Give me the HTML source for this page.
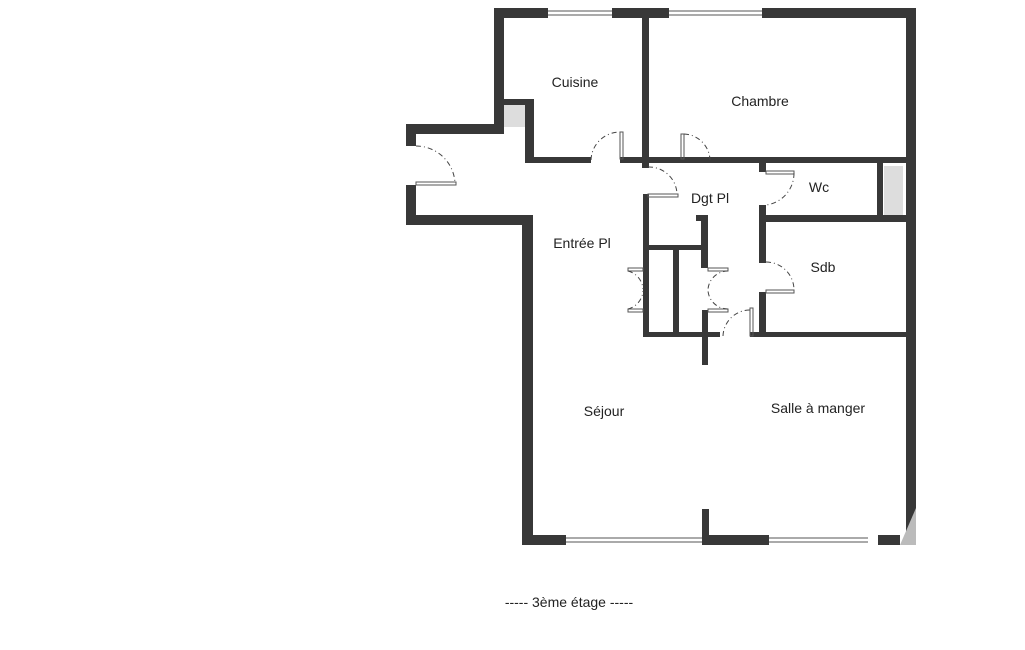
<!DOCTYPE html>
<html><head><meta charset="utf-8"><style>
html,body{margin:0;padding:0;background:#fff;width:1025px;height:650px;overflow:hidden}
svg{display:block}
text{font-family:"Liberation Sans","DejaVu Sans",sans-serif;font-size:14px;fill:#222;text-anchor:middle}
</style></head><body>
<svg width="1025" height="650" viewBox="0 0 1025 650">
<g fill="#ddd"><rect x="504" y="105" width="21" height="22"/><rect x="884" y="166" width="19" height="49"/></g>
<g fill="#383838">
<rect x="494" y="8" width="54" height="10"/>
<rect x="612" y="8" width="57" height="10"/>
<rect x="762" y="8" width="154" height="10"/>
<rect x="906" y="8" width="10" height="537"/>
<rect x="494" y="8" width="10" height="126"/>
<rect x="406" y="124" width="98" height="10"/>
<rect x="504" y="99" width="30" height="6"/>
<rect x="525" y="99" width="9" height="64"/>
<rect x="528" y="157" width="63" height="6"/>
<rect x="620" y="157" width="90" height="6"/>
<rect x="642" y="8" width="7" height="160"/>
<rect x="710" y="157" width="196" height="6"/>
<rect x="406" y="124" width="10" height="22"/>
<rect x="406" y="185" width="10" height="40"/>
<rect x="406" y="215" width="127" height="10"/>
<rect x="522" y="215" width="11" height="330"/>
<rect x="522" y="535" width="44" height="10"/>
<rect x="702" y="535" width="67" height="10"/>
<rect x="702" y="509" width="7" height="36"/>
<rect x="878" y="535" width="22" height="10"/>
<rect x="643" y="194" width="6" height="143"/>
<rect x="701" y="215" width="7" height="53"/>
<rect x="696" y="215" width="12" height="6"/>
<rect x="643" y="245" width="65" height="5"/>
<rect x="673" y="250" width="6" height="87"/>
<rect x="643" y="332" width="77" height="5"/>
<rect x="702" y="310" width="6" height="55"/>
<rect x="759" y="163" width="7" height="9"/>
<rect x="759" y="205" width="7" height="58"/>
<rect x="759" y="292" width="7" height="45"/>
<rect x="766" y="215" width="140" height="7"/>
<rect x="877" y="163" width="6" height="55"/>
<rect x="750" y="332" width="156" height="5"/>
</g>
<polygon points="900,545 916,545 916,508" fill="#bbb"/>
<g stroke="#555" stroke-width="1" fill="none">
<line x1="548" y1="11" x2="612" y2="11"/><line x1="548" y1="15" x2="612" y2="15"/>
<line x1="669" y1="11" x2="762" y2="11"/><line x1="669" y1="15" x2="762" y2="15"/>
<line x1="566" y1="538" x2="702" y2="538"/><line x1="566" y1="542" x2="702" y2="542"/>
<line x1="769" y1="538" x2="868" y2="538"/><line x1="769" y1="542" x2="868" y2="542"/>
<rect x="620" y="132" width="3" height="27"/><rect x="681" y="134" width="3" height="25"/>
<rect x="416" y="182" width="40" height="3"/>
<rect x="648" y="194" width="30" height="3"/>
<rect x="766" y="171" width="28" height="3"/><rect x="766" y="290" width="28" height="3"/>
<rect x="628" y="268" width="15" height="3"/><rect x="628" y="309" width="15" height="3"/>
<rect x="708" y="268" width="20" height="3"/><rect x="708" y="309" width="20" height="3"/>
<rect x="750" y="308" width="3" height="28"/>
</g>
<g stroke="#444" stroke-width="1" fill="none" stroke-dasharray="5,3,1,3">
<path d="M416,146 A39,39 0 0 1 455,183"/>
<path d="M591,160 A29,29 0 0 1 620,132"/>
<path d="M684,134 A27,27 0 0 1 710,160"/>
<path d="M648,167 A28,28 0 0 1 677,194"/>
<path d="M794,173 A32,32 0 0 1 766,205"/>
<path d="M766,262 A28,28 0 0 1 794,290"/>
<path d="M723,336 A27,27 0 0 1 750,310"/>
<path d="M628,271 A20,20 0 0 1 643,289"/>
<path d="M628,309 A20,20 0 0 0 643,291"/>
<path d="M728,271 A20,20 0 0 0 708,289"/>
<path d="M728,309 A20,20 0 0 1 708,291"/>
</g>
<text x="575" y="87">Cuisine</text>
<text x="760" y="106">Chambre</text>
<text x="819" y="192">Wc</text>
<text x="710" y="203">Dgt Pl</text>
<text x="582" y="248">Entrée Pl</text>
<text x="823" y="272">Sdb</text>
<text x="604" y="416">Séjour</text>
<text x="818" y="413">Salle à manger</text>
<text x="569" y="607">----- 3ème étage -----</text>
</svg>
</body></html>
